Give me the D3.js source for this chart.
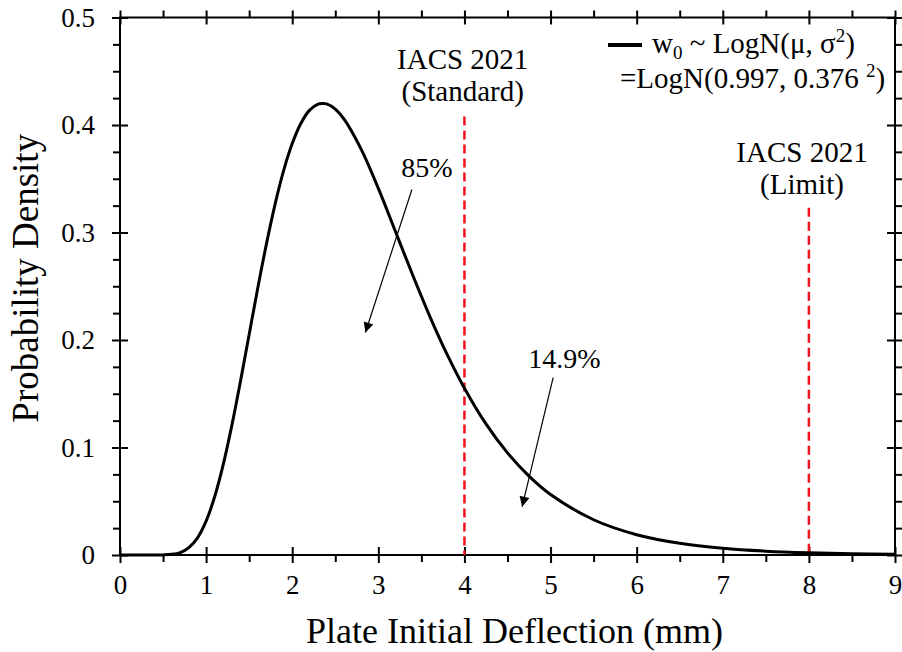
<!DOCTYPE html>
<html>
<head>
<meta charset="utf-8">
<script src="https://cdn.jsdelivr.net/npm/d3@7"></script>
<style>
  html, body { margin: 0; padding: 0; background: #fff; }
  svg { display: block; }
  svg text { font-family: "Liberation Serif", "Times New Roman", serif !important; fill: #000; }
</style>
</head>
<body>
<script>
// Deflection values (mm) and the probability density
const deflection = [0, 0.2, 0.4, 0.5, 0.6, 0.7, 0.8, 0.9, 1.0, 1.1, 1.2, 1.3, 1.4, 1.5, 1.6, 1.7, 1.8, 1.9,
  2.0, 2.1, 2.2, 2.3, 2.35, 2.4, 2.5, 2.6, 2.8, 3.0, 3.2, 3.4, 3.6, 3.8, 4.0, 4.25, 4.5, 4.75, 5.0,
  5.5, 6.0, 6.5, 7.0, 7.5, 8.0, 8.5, 9.0];
const density = [0, 0, 0, 0.0001, 0.0006, 0.0023, 0.0069, 0.0160, 0.0315, 0.0544, 0.0845, 0.1210, 0.1620,
  0.2052, 0.2483, 0.2892, 0.3260, 0.3575, 0.3827, 0.4014, 0.4136, 0.4194, 0.4200, 0.4196, 0.4147, 0.4056,
  0.3775, 0.3410, 0.3007, 0.2602, 0.2216, 0.1864, 0.1552, 0.1220, 0.0950, 0.0734, 0.0563,
  0.0328, 0.0189, 0.0109, 0.0063, 0.0036, 0.0021, 0.0012, 0.0007];

const xTicks = [0, 1, 2, 3, 4, 5, 6, 7, 8, 9];
const yTicks = [0, 0.1, 0.2, 0.3, 0.4, 0.5];
const yTickLabels = ["0", "0.1", "0.2", "0.3", "0.4", "0.5"];

// IACS 2021 reference deflections (mm)
const limitValues = [4, 8];
const limitNames = ["(Standard)", "(Limit)"];
const limitTops = [0.408, 0.323];

// Area shares left and right of the standard value
const shareLabels = ["85%", "14.9%"];

const W = 902, H = 652;
const margin = { left: 120, right: 7, top: 17.5, bottom: 97 };
const SERIF = "Liberation Serif";

const svg = d3.select("body").append("svg")
  .attr("width", W).attr("height", H);

const x = d3.scaleLinear().domain([0, 9]).range([margin.left, W - margin.right]);
const y = d3.scaleLinear().domain([0, 0.5]).range([H - margin.bottom, margin.top]);

const xMinor = d3.range(0.5, 9, 1);
const yMinor = d3.range(0, 0.5, 0.025).filter(v => Math.abs(v * 10 - Math.round(v * 10)) > 1e-6);

// Frame lines
svg.append("rect")
  .attr("x", x(0)).attr("y", y(0.5))
  .attr("width", x(9) - x(0)).attr("height", y(0) - y(0.5))
  .attr("fill", "none").attr("stroke", "#000").attr("stroke-width", 2);

// Bottom axis
const gx = svg.append("g").attr("transform", `translate(0,${y(0)})`)
  .call(d3.axisBottom(x).tickValues(xTicks).tickFormat(d3.format("d")).tickSize(8).tickPadding(12));
gx.attr("font-family", SERIF);
gx.select(".domain").remove();
gx.selectAll(".tick line").attr("y1", -8).attr("stroke-width", 2);
gx.selectAll(".tick text").attr("font-size", 27).style("font-family", SERIF);
svg.append("g").attr("transform", `translate(0,${y(0)})`)
  .call(d3.axisBottom(x).tickValues(xMinor).tickFormat("").tickSize(7))
  .call(g => g.select(".domain").remove())
  .selectAll(".tick line").attr("stroke-width", 2);

// Top axis (ticks only)
const gxt = svg.append("g").attr("transform", `translate(0,${y(0.5)})`)
  .call(d3.axisTop(x).tickValues(xTicks).tickFormat("").tickSize(7));
gxt.select(".domain").remove();
gxt.selectAll(".tick line").attr("y1", 7).attr("stroke-width", 2);
svg.append("g").attr("transform", `translate(0,${y(0.5)})`)
  .call(d3.axisTop(x).tickValues(xMinor).tickFormat("").tickSize(7))
  .call(g => g.select(".domain").remove())
  .selectAll(".tick line").attr("stroke-width", 2);

// Left axis
const gy = svg.append("g").attr("transform", `translate(${x(0)},0)`)
  .call(d3.axisLeft(y).tickValues(yTicks).tickFormat((d, i) => yTickLabels[i]).tickSize(8).tickPadding(17));
gy.attr("font-family", SERIF);
gy.select(".domain").remove();
gy.selectAll(".tick line").attr("x1", 8).attr("stroke-width", 2);
gy.selectAll(".tick text").attr("font-size", 27).style("font-family", SERIF);
svg.append("g").attr("transform", `translate(${x(0)},0)`)
  .call(d3.axisLeft(y).tickValues(yMinor).tickFormat("").tickSize(7))
  .call(g => g.select(".domain").remove())
  .selectAll(".tick line").attr("stroke-width", 2);

// Right axis (ticks only)
const gyr = svg.append("g").attr("transform", `translate(${x(9)},0)`)
  .call(d3.axisRight(y).tickValues(yTicks).tickFormat("").tickSize(8));
gyr.select(".domain").remove();
gyr.selectAll(".tick line").attr("x1", -8).attr("stroke-width", 2);
svg.append("g").attr("transform", `translate(${x(9)},0)`)
  .call(d3.axisRight(y).tickValues(yMinor).tickFormat("").tickSize(7))
  .call(g => g.select(".domain").remove())
  .selectAll(".tick line").attr("stroke-width", 2);

// Axis titles
svg.append("text")
  .attr("x", (x(0) + x(9)) / 2 + 7).attr("y", 643)
  .attr("text-anchor", "middle").attr("font-size", 36)
  .text("Plate Initial Deflection (mm)");
svg.append("text")
  .attr("transform", `translate(38,${(y(0) + y(0.5)) / 2 - 8}) rotate(-90)`)
  .attr("text-anchor", "middle").attr("font-size", 37)
  .text("Probability Density");

// Reference lines
svg.append("g").selectAll("line").data(limitValues).join("line")
  .attr("x1", d => x(d)).attr("x2", d => x(d))
  .attr("y1", (d, i) => y(limitTops[i])).attr("y2", y(0))
  .attr("stroke", "#f0141e").attr("stroke-width", 2.5)
  .attr("stroke-dasharray", "9,5");

// Density curve
const pts = deflection.map((d, i) => [d, density[i]]);
svg.append("path").datum(pts)
  .attr("fill", "none").attr("stroke", "#000").attr("stroke-width", 3)
  .attr("d", d3.line().x(d => x(d[0])).y(d => y(d[1])).curve(d3.curveCatmullRom));

// Reference labels
const limLabelX = [3.98, 7.92];
const limLabelY = [0.452, 0.366];
limitValues.forEach((v, i) => {
  const t = svg.append("text").attr("text-anchor", "middle").attr("font-size", 29)
    .attr("x", x(limLabelX[i])).attr("y", y(limLabelY[i]));
  t.append("tspan").text("IACS 2021");
  t.append("tspan").attr("x", x(limLabelX[i])).attr("dy", 32).text(limitNames[i]);
});

// Share annotations with arrows
svg.append("defs").append("marker")
  .attr("id", "tip").attr("viewBox", "0 0 10 10").attr("refX", 10).attr("refY", 5)
  .attr("markerWidth", 13).attr("markerHeight", 10).attr("markerUnits", "userSpaceOnUse")
  .attr("orient", "auto")
  .append("path").attr("d", "M0,0 L10,5 L0,10 Z").attr("fill", "#000");

const shareText = [[3.565, 0.352], [5.16, 0.174]];
const arrowFrom = [[3.39, 0.340], [5.03, 0.165]];
const arrowTo = [[2.85, 0.207], [4.67, 0.045]];
shareLabels.forEach((s, i) => {
  svg.append("text").attr("text-anchor", "middle").attr("font-size", 28)
    .attr("x", x(shareText[i][0])).attr("y", y(shareText[i][1])).text(s);
  svg.append("line")
    .attr("x1", x(arrowFrom[i][0])).attr("y1", y(arrowFrom[i][1]))
    .attr("x2", x(arrowTo[i][0])).attr("y2", y(arrowTo[i][1]))
    .attr("stroke", "#000").attr("stroke-width", 1.2)
    .attr("marker-end", "url(#tip)");
});

// Legend
const lg = svg.append("g");
lg.append("line").attr("x1", 608).attr("x2", 642).attr("y1", 45).attr("y2", 45)
  .attr("stroke", "#000").attr("stroke-width", 4);
const l1 = lg.append("text").attr("x", 652).attr("y", 53).attr("font-size", 29);
l1.append("tspan").text("w");
l1.append("tspan").attr("font-size", 19).attr("dy", 6).text("0");
l1.append("tspan").attr("dy", -6).text(" ~ LogN(μ, σ");
l1.append("tspan").attr("font-size", 19).attr("dy", -11).text("2");
l1.append("tspan").attr("dy", 11).text(")");
const l2 = lg.append("text").attr("x", 620).attr("y", 88).attr("font-size", 29);
l2.append("tspan").text("=LogN(0.997, 0.376 ");
l2.append("tspan").attr("font-size", 19).attr("dy", -11).text("2");
l2.append("tspan").attr("dy", 11).text(")");
</script>
</body>
</html>
